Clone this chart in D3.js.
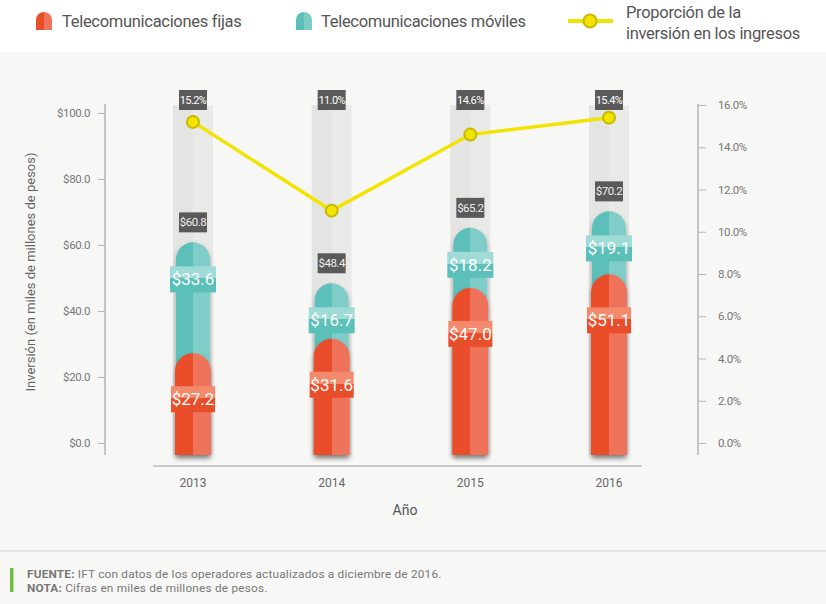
<!DOCTYPE html>
<html>
<head>
<meta charset="utf-8">
<script src="https://cdn.jsdelivr.net/npm/d3@7"></script>
<style>
  body { margin: 0; background: #fff; }
  svg { display: block; font-family: Roboto, sans-serif; }
</style>
</head>
<body>
<svg id="chart" width="826" height="604"></svg>
<script>
// values
var years = ["2013", "2014", "2015", "2016"];
var fijas = [27.2, 31.6, 47.0, 51.1];
var moviles = [33.6, 16.7, 18.2, 19.1];
var totales = [60.8, 48.4, 65.2, 70.2];
var proporcion = [15.2, 11.0, 14.6, 15.4];
var leftTicks = [0, 20, 40, 60, 80, 100];
var rightTicks = [0, 2, 4, 6, 8, 10, 12, 14, 16];

var rows = years.map((y, i) => ({
  year: y, fija: fijas[i], movil: moviles[i], total: totales[i], pct: proporcion[i]
}));

var W = 826, H = 604;
var bottom = 455;

var x = d3.scalePoint().domain(years).range([193, 609]);
var y = d3.scaleLinear().domain([0, 100]).range([443, 113]);
var y2 = d3.scaleLinear().domain([0, 16]).range([443, 105]);

var svg = d3.select("#chart");
var defs = svg.append("defs");

function hGrad(id, dark, light) {
  var g = defs.append("linearGradient").attr("id", id)
      .attr("x1", 0).attr("x2", 1).attr("y1", 0).attr("y2", 0);
  g.append("stop").attr("offset", 0.5).attr("stop-color", dark);
  g.append("stop").attr("offset", 0.5).attr("stop-color", light);
}
function vGrad(id, light, dark, at) {
  var g = defs.append("linearGradient").attr("id", id)
      .attr("x1", 0).attr("x2", 0).attr("y1", 0).attr("y2", 1);
  g.append("stop").attr("offset", at).attr("stop-color", light);
  g.append("stop").attr("offset", at).attr("stop-color", dark);
}
hGrad("gRed", "#e94e2b", "#ef735a");
hGrad("gTeal", "#5bbfba", "#80ccc8");
hGrad("gCol", "#e4e4e3", "#e9e9e8");
vGrad("lRed", "#f28a6b", "#e94e2b", 0.46);
vGrad("lTeal", "#9fdbd7", "#5bbfba", 0.46);

var f = defs.append("filter").attr("id", "shadow")
    .attr("x", "-30%").attr("y", "-10%").attr("width", "160%").attr("height", "130%");
f.append("feDropShadow").attr("dx", 0).attr("dy", 3).attr("stdDeviation", 2.5)
    .attr("flood-color", "#000").attr("flood-opacity", 0.3);

// backgrounds
svg.append("rect").attr("width", W).attr("height", H).attr("fill", "#fff");
svg.append("rect").attr("y", 52).attr("width", W).attr("height", H - 52).attr("fill", "#f7f7f6");
svg.append("line").attr("x1", 0).attr("x2", W).attr("y1", 551).attr("y2", 551)
    .attr("stroke", "#dcdcdc").attr("stroke-width", 1.5);

// rounded-top bar path
function capBar(cx, top, w, bot) {
  var r = w / 2, x0 = cx - r, x1 = cx + r;
  return `M${x0},${bot}V${top + r}A${r},${r} 0 0 1 ${x1},${top + r}V${bot}Z`;
}

// legend
var leg = svg.append("g").attr("font-size", 16.5).attr("fill", "#555").attr("letter-spacing", -0.3);
leg.append("path").attr("d", capBar(44, 12, 16, 30)).attr("fill", "url(#gRed)");
leg.append("text").attr("x", 62).attr("y", 27).text("Telecomunicaciones fijas");
leg.append("path").attr("d", capBar(304, 12, 16, 30)).attr("fill", "url(#gTeal)");
leg.append("text").attr("x", 321).attr("y", 27).text("Telecomunicaciones móviles");
leg.append("line").attr("x1", 568).attr("x2", 613).attr("y1", 21).attr("y2", 21)
    .attr("stroke", "#f2e400").attr("stroke-width", 4);
leg.append("circle").attr("cx", 590).attr("cy", 21).attr("r", 6.5)
    .attr("fill", "#f2e400").attr("stroke", "#c9b800").attr("stroke-width", 2);
leg.append("text").attr("x", 626).attr("y", 18).text("Proporción de la");
leg.append("text").attr("x", 626).attr("y", 39).text("inversión en los ingresos");

// grey columns
svg.append("g").selectAll("rect").data(rows).join("rect")
    .attr("x", d => x(d.year) - 20).attr("width", 40)
    .attr("y", 105).attr("height", bottom - 105)
    .attr("fill", "url(#gCol)");

// axes
var gl = svg.append("g").attr("transform", "translate(105,0)")
    .call(d3.axisLeft(y).tickValues(leftTicks).tickSize(7).tickPadding(8)
      .tickFormat(d => "$" + d3.format(".1f")(d)));
gl.select(".domain").attr("d", "M0,104V455");
var gr = svg.append("g").attr("transform", "translate(698,0)")
    .call(d3.axisRight(y2).tickValues(rightTicks).tickSize(8).tickPadding(12)
      .tickFormat(d => d3.format(".1f")(d) + "%"));
gr.select(".domain").attr("d", "M0,104V455");
[gl, gr].forEach(g => {
  g.select(".domain").attr("stroke", "#b5b5b5").attr("stroke-width", 1.5);
  g.selectAll(".tick line").attr("stroke", "#b5b5b5");
  g.selectAll(".tick text").attr("fill", "#777").attr("font-size", 11.5)
      .attr("font-family", "Roboto, sans-serif").attr("letter-spacing", -0.4);
});

svg.append("line").attr("x1", 153).attr("x2", 642).attr("y1", 466).attr("y2", 466)
    .attr("stroke", "#bdbdbd").attr("stroke-width", 1.5);
svg.append("g").selectAll("text").data(years).join("text")
    .attr("x", d => x(d)).attr("y", 487).attr("text-anchor", "middle")
    .attr("font-size", 12).attr("fill", "#666").text(d => d);
svg.append("text").attr("x", 405).attr("y", 515).attr("text-anchor", "middle")
    .attr("font-size", 14).attr("fill", "#555").text("Año");
svg.append("text").attr("transform", "translate(35,272) rotate(-90)")
    .attr("text-anchor", "middle").attr("font-size", 13).attr("fill", "#666")
    .text("Inversión (en miles de millones de pesos)");

// stacked bars: mobile behind, fixed in front
svg.append("g").selectAll("path").data(rows).join("path")
    .attr("d", d => capBar(x(d.year), y(d.total), 34, bottom))
    .attr("fill", "url(#gTeal)").attr("filter", "url(#shadow)");
svg.append("g").selectAll("path").data(rows).join("path")
    .attr("d", d => capBar(x(d.year), y(d.fija), 36, bottom))
    .attr("fill", "url(#gRed)").attr("filter", "url(#shadow)");

// value labels
var lab = svg.append("g").selectAll("g").data(rows).join("g");
lab.each(function (d) {
  var s = d3.select(this);
  var t = s.append("g").attr("transform", `translate(${x(d.year)},${y(d.total) + 37})`);
  t.append("rect").attr("x", -23).attr("y", -13).attr("width", 46).attr("height", 26)
      .attr("fill", "url(#lTeal)");
  t.append("text").attr("y", 6).attr("text-anchor", "middle").attr("font-size", 17)
      .attr("fill", "#fff").text("$" + d3.format(".1f")(d.movil));
  var r = s.append("g").attr("transform", `translate(${x(d.year)},${y(d.fija) + 46})`);
  r.append("rect").attr("x", -22).attr("y", -13).attr("width", 44).attr("height", 26)
      .attr("fill", "url(#lRed)");
  r.append("text").attr("y", 6).attr("text-anchor", "middle").attr("font-size", 17)
      .attr("fill", "#fff").text("$" + d3.format(".1f")(d.fija));
  var tt = s.append("g").attr("transform", `translate(${x(d.year)},${y(d.total) - 20})`);
  tt.append("rect").attr("x", -14).attr("y", -10).attr("width", 28).attr("height", 20)
      .attr("fill", "#5a5a5a");
  tt.append("text").attr("y", 4).attr("text-anchor", "middle").attr("font-size", 11.5)
      .attr("letter-spacing", -0.5).attr("fill", "#eee").text("$" + d3.format(".1f")(d.total));
  var p = s.append("g").attr("transform", `translate(${x(d.year)},100)`);
  p.append("rect").attr("x", -14).attr("y", -10).attr("width", 28).attr("height", 20)
      .attr("fill", "#5a5a5a");
  p.append("text").attr("y", 4).attr("text-anchor", "middle").attr("font-size", 11)
      .attr("letter-spacing", -0.6).attr("fill", "#fff").text(d3.format(".1f")(d.pct) + "%");
});

// proportion line
svg.append("path").datum(rows)
    .attr("d", d3.line().x(d => x(d.year)).y(d => y2(d.pct)))
    .attr("fill", "none").attr("stroke", "#f2e400").attr("stroke-width", 3.5);
svg.append("g").selectAll("circle").data(rows).join("circle")
    .attr("cx", d => x(d.year)).attr("cy", d => y2(d.pct)).attr("r", 6)
    .attr("fill", "#f2e400").attr("stroke", "#c9b800").attr("stroke-width", 2);

// footer
svg.append("rect").attr("x", 10).attr("y", 568).attr("width", 3.5).attr("height", 24)
    .attr("fill", "#6cbf47");
var ft = svg.append("text").attr("x", 27).attr("y", 578).attr("font-size", 11.8)
    .attr("letter-spacing", 0.2).attr("fill", "#777");
ft.append("tspan").attr("font-weight", "bold").text("FUENTE:");
ft.append("tspan").text(" IFT con datos de los operadores actualizados a diciembre de 2016.");
var nt = svg.append("text").attr("x", 27).attr("y", 592).attr("font-size", 11.8)
    .attr("letter-spacing", 0.2).attr("fill", "#777");
nt.append("tspan").attr("font-weight", "bold").text("NOTA:");
nt.append("tspan").text(" Cifras en miles de millones de pesos.");
</script>
</body>
</html>
